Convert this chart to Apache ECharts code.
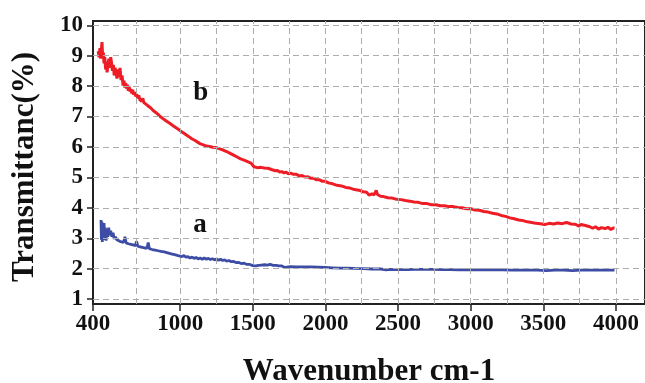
<!DOCTYPE html>
<html>
<head>
<meta charset="utf-8">
<script src="https://cdn.jsdelivr.net/npm/echarts@6/dist/echarts.min.js"></script>
<style>
  html, body { margin: 0; padding: 0; background: #ffffff; }
  #chart { width: 645px; height: 383px; }
</style>
</head>
<body>
<div id="chart"></div>
<script>
// Axis ticks and grid positions (data units)
const xTickValues = [400, 1000, 1500, 2000, 2500, 3000, 3500, 4000];
const yTickValues = [1, 2, 3, 4, 5, 6, 7, 8, 9, 10];
const xGridValues = [700, 1000, 1250, 1500, 1750, 2000, 2250, 2500, 2750, 3000, 3250, 3500, 3750, 4000];
const yGridValues = [1, 2, 3, 4, 5, 6, 7, 8, 9, 10];

// Spectrum b (red)
const wavenumberB = [436, 442, 448, 453, 458, 462, 466, 471, 476, 481, 487, 492, 497, 503, 509, 515, 522, 528, 534, 540,
  546, 552, 558, 565, 572, 579, 586, 593,
  600, 607, 613, 619, 625, 631, 637, 643, 649, 655, 661, 667, 673, 680, 687, 694, 701, 708, 715, 722, 729, 736, 743, 750,
  758, 766, 774, 782, 790, 798, 806, 814, 822, 830, 838, 846, 854, 862, 870, 879, 888, 897, 906, 915, 924, 933, 942, 951,
  960, 969, 978, 987, 996, 1005, 1014, 1023, 1032, 1041, 1050, 1060, 1070, 1080, 1090, 1100, 1110, 1120, 1130, 1140, 1150,
  1160, 1170, 1180, 1190, 1200, 1212, 1224, 1236, 1248, 1260, 1272, 1284, 1296, 1308, 1320, 1332, 1344, 1356, 1368, 1380,
  1392, 1404, 1416, 1428, 1440, 1452, 1464, 1476, 1488, 1500, 1508, 1520, 1532, 1544, 1556, 1568, 1580, 1592, 1604, 1616,
  1628, 1640, 1655, 1670, 1685, 1700, 1715, 1730, 1745, 1760, 1780, 1800, 1820, 1840, 1860, 1880, 1900, 1920, 1940, 1960,
  1980, 2000, 2020, 2050, 2080, 2110, 2140, 2170, 2200, 2230, 2260, 2285, 2300, 2320, 2335, 2350, 2358, 2380, 2400, 2430,
  2460, 2490, 2520, 2550, 2580, 2610, 2640, 2670, 2700, 2730, 2760, 2790, 2820, 2850, 2880, 2910, 2940, 2970, 3000, 3030,
  3060, 3090, 3120, 3150, 3180, 3210, 3240, 3270, 3300, 3330, 3360, 3390, 3420, 3450, 3480, 3510, 3540, 3570, 3600, 3630,
  3660, 3690, 3720, 3745, 3760, 3790, 3820, 3840, 3860, 3880, 3900, 3925, 3945, 3965, 3980, 3990];
const transmittanceB = [9.15, 8.95, 9.25, 8.9, 9.2, 9.45, 9.0, 9.1, 8.75, 8.95, 8.55, 8.8, 8.45, 8.7, 8.9, 8.6, 8.95, 8.75, 8.5, 8.7,
  8.35, 8.6, 8.45, 8.25, 8.55, 8.3, 8.6, 8.2,
  8.35, 8.02, 8.18, 7.95, 8.1, 7.92, 8.05, 7.85, 7.98, 7.82, 7.9, 7.76, 7.88, 7.72, 7.8, 7.66, 7.74, 7.6, 7.7, 7.56, 7.62, 7.5, 7.6, 7.46,
  7.52, 7.4, 7.46, 7.34, 7.4, 7.28, 7.33, 7.2, 7.26, 7.14, 7.18, 7.08, 7.12, 7.0, 7.04, 6.94, 6.98, 6.88, 6.9, 6.82, 6.84, 6.76, 6.78, 6.7,
  6.72, 6.64, 6.66, 6.58, 6.6, 6.52, 6.53, 6.46, 6.47, 6.4, 6.41, 6.34, 6.36, 6.27, 6.3, 6.22, 6.24, 6.16, 6.18, 6.1, 6.13,
  6.07, 6.09, 6.03, 6.06, 6.02, 6.05, 5.99, 6.03, 5.98, 6.0, 5.94, 5.96, 5.9, 5.92, 5.85, 5.86, 5.79, 5.8, 5.73, 5.74,
  5.67, 5.68, 5.61, 5.63, 5.57, 5.58, 5.52, 5.53, 5.47, 5.46, 5.35, 5.37, 5.32, 5.37, 5.33, 5.36, 5.31, 5.35, 5.3, 5.31,
  5.26, 5.27, 5.22, 5.23, 5.18, 5.19, 5.15, 5.17, 5.12, 5.14, 5.1, 5.1, 5.05, 5.06, 5.01, 5.02, 4.97, 4.97, 4.92, 4.92,
  4.87, 4.87, 4.82, 4.79, 4.74, 4.72, 4.67, 4.65, 4.6, 4.58, 4.53, 4.51, 4.42, 4.46, 4.43, 4.57, 4.44, 4.38, 4.37, 4.33,
  4.32, 4.28, 4.27, 4.24, 4.22, 4.19, 4.18, 4.14, 4.14, 4.1, 4.1, 4.07, 4.07, 4.04, 4.04, 4.01, 4.0, 3.97, 3.97, 3.93,
  3.92, 3.88, 3.86, 3.82, 3.8, 3.75, 3.72, 3.67, 3.64, 3.6, 3.58, 3.54, 3.52, 3.49, 3.48, 3.45, 3.49, 3.47, 3.5, 3.48,
  3.52, 3.47, 3.46, 3.4, 3.45, 3.42, 3.38, 3.33, 3.38, 3.3, 3.35, 3.32, 3.36, 3.29, 3.34, 3.33];

// Spectrum a (blue)
const wavenumberA = [455, 458, 461, 464, 468, 472, 476, 480, 485, 490, 496, 502, 508, 515, 522, 530, 538, 546, 555, 564,
  574, 585, 597, 610, 620, 628, 636, 644, 652, 660, 668, 676, 684, 692, 700, 708, 716, 724, 732, 740,
  748, 756, 764, 772, 780, 788, 798, 808, 818, 828, 838, 848, 858, 868, 878, 890, 902, 914, 926, 938,
  950, 962, 974, 986, 998, 1012, 1026, 1040, 1054, 1068, 1082, 1096, 1110, 1124, 1138, 1152, 1166, 1180, 1194, 1208,
  1222, 1236, 1250, 1264, 1278, 1292, 1306, 1320, 1336, 1352, 1368, 1384, 1400, 1420, 1440, 1460, 1480, 1500, 1520, 1540,
  1560, 1580, 1600, 1620, 1640, 1660, 1680, 1700, 1720, 1730, 1760, 1800, 1850, 1900, 1950, 2000, 2050, 2100, 2150, 2200,
  2260, 2320, 2380, 2420, 2440, 2500, 2560, 2620, 2680, 2740, 2800, 2860, 2920, 2980, 3040, 3100, 3160, 3220, 3280, 3340,
  3400, 3460, 3520, 3580, 3640, 3700, 3760, 3820, 3880, 3940, 3990];
const transmittanceA = [3.6, 2.95, 3.55, 2.88, 3.45, 3.0, 3.5, 2.95, 3.35, 2.92, 3.3, 3.05, 3.35, 3.1, 3.25, 3.05, 3.18, 2.98, 3.05, 2.95,
  2.98, 2.9, 2.94, 2.86, 3.05, 2.85, 2.9, 2.82, 2.86, 2.8, 2.84, 2.78, 2.82, 2.76, 2.9, 2.74, 2.78, 2.72, 2.76, 2.7,
  2.74, 2.68, 2.72, 2.68, 2.86, 2.66, 2.68, 2.63, 2.66, 2.61, 2.64, 2.59, 2.62, 2.57, 2.6, 2.55, 2.57, 2.52, 2.54, 2.49,
  2.51, 2.46, 2.48, 2.43, 2.45, 2.4, 2.43, 2.38, 2.4, 2.35, 2.38, 2.34, 2.37, 2.32, 2.35, 2.31, 2.35, 2.31, 2.34, 2.3,
  2.33, 2.29, 2.32, 2.28, 2.31, 2.27, 2.29, 2.25, 2.27, 2.23, 2.24, 2.2, 2.21, 2.17, 2.18, 2.14, 2.14, 2.1, 2.09, 2.11,
  2.12, 2.13, 2.12, 2.14, 2.11, 2.11, 2.09, 2.09, 2.04, 2.08, 2.07, 2.06, 2.06, 2.06, 2.05, 2.04, 2.03, 2.02, 2.02, 2.01,
  2.0, 1.99, 1.99, 1.96, 1.98, 1.97, 1.97, 1.98, 1.98, 1.98, 1.97, 1.97, 1.96, 1.96, 1.96, 1.96, 1.96, 1.96, 1.95, 1.95,
  1.95, 1.95, 1.94, 1.95, 1.95, 1.94, 1.95, 1.95, 1.95, 1.95, 1.95];

const seriesLabels = { a: [1136, 3.45], b: [1142, 7.77] };

const pairs = (xs, ys) => xs.map((x, i) => [x, ys[i]]);
const serif = '"Liberation Serif", "Times New Roman", serif';

const chart = echarts.init(document.getElementById('chart'), null, { renderer: 'canvas' });

chart.setOption({
  animation: false,
  backgroundColor: '#ffffff',
  grid: {
    left: 93, top: 21, right: -1, bottom: 79,
    show: true, borderColor: '#222', borderWidth: 2, backgroundColor: 'transparent'
  },
  xAxis: {
    type: 'value', min: 400, max: 4200,
    axisLine: { show: true, onZero: false, lineStyle: { color: '#222', width: 2 } },
    axisTick: { show: true, customValues: xTickValues, length: 7, lineStyle: { color: '#222', width: 1.5 } },
    axisLabel: {
      customValues: xTickValues, formatter: v => String(v),
      fontFamily: serif, fontWeight: 'bold', fontSize: 23, color: '#111', margin: 9
    },
    splitLine: { show: false }
  },
  yAxis: {
    type: 'value', min: 0.84, max: 10.14,
    axisLine: { show: true, onZero: false, lineStyle: { color: '#222', width: 2 } },
    axisTick: { show: true, customValues: yTickValues, length: 6, lineStyle: { color: '#222', width: 1.5 } },
    axisLabel: {
      customValues: yTickValues, formatter: v => String(v),
      fontFamily: serif, fontWeight: 'bold', fontSize: 23, color: '#111', margin: 10
    },
    splitLine: { show: false }
  },
  graphic: [
    {
      type: 'text', x: 25, y: 167, rotation: Math.PI / 2,
      style: { text: 'Transmittanc(%)', font: 'bold 31px ' + serif, fill: '#111', align: 'center', verticalAlign: 'middle' }
    },
    {
      type: 'text', x: 369, y: 372,
      style: { text: 'Wavenumber cm-1', font: 'bold 31px ' + serif, fill: '#111', align: 'center', verticalAlign: 'middle' }
    }
  ],
  series: [
    {
      // dashed grid
      type: 'line', data: [], z: 1, silent: true,
      markLine: {
        silent: true, symbol: ['none', 'none'], animation: false,
        label: { show: false },
        lineStyle: { color: '#adadad', width: 1, type: [6, 4] },
        emphasis: { disabled: true },
        data: xGridValues.map(v => ({ xAxis: v })).concat(yGridValues.map(v => ({ yAxis: v })))
      }
    },
    {
      name: 'b', type: 'line', z: 3, showSymbol: false, symbol: 'none',
      data: pairs(wavenumberB, transmittanceB),
      lineStyle: { color: '#ee1c25', width: 3 },
      markPoint: {
        symbol: 'circle', symbolSize: 1, itemStyle: { color: 'transparent' },
        label: { show: true, position: 'inside', formatter: 'b', fontFamily: serif, fontWeight: 'bold', fontSize: 27, color: '#111' },
        data: [{ coord: seriesLabels.b }]
      }
    },
    {
      name: 'a', type: 'line', z: 3, showSymbol: false, symbol: 'none',
      data: pairs(wavenumberA, transmittanceA),
      lineStyle: { color: '#3d4ca5', width: 2.8 },
      markPoint: {
        symbol: 'circle', symbolSize: 1, itemStyle: { color: 'transparent' },
        label: { show: true, position: 'inside', formatter: 'a', fontFamily: serif, fontWeight: 'bold', fontSize: 27, color: '#111' },
        data: [{ coord: seriesLabels.a }]
      }
    }
  ]
});
</script>
</body>
</html>
